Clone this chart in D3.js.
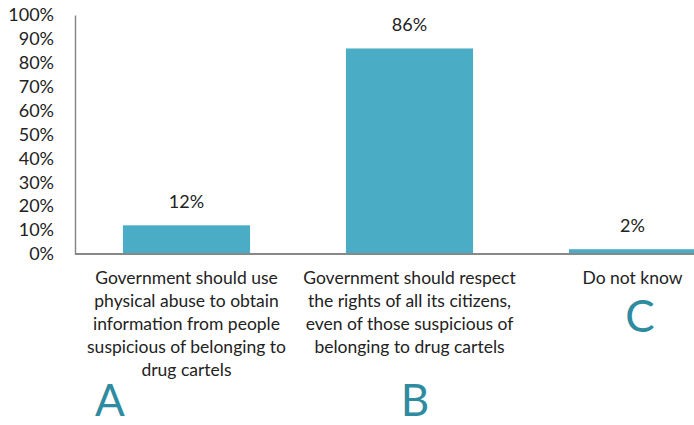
<!DOCTYPE html>
<html><head><meta charset="utf-8">
<script src="https://d3js.org/d3.v7.min.js"></script>
<style>html,body{margin:0;padding:0;background:#fff;overflow:hidden}</style>
</head><body>
<svg id="c" width="694" height="425"></svg>
<script>
const categories = ["A", "B", "C"];
const values = [0.12, 0.86, 0.02];
const valueLabels = ["12%", "86%", "2%"];
const categoryLabels = [
  ["Government should use", "physical abuse to obtain", "information from people", "suspicious of belonging to", "drug cartels"],
  ["Government should respect", "the rights of all its citizens,", "even of those suspicious of", "belonging to drug cartels"],
  ["Do not know"]
];
const letters = ["A", "B", "C"];
const yTicks = [0, 0.1, 0.2, 0.3, 0.4, 0.5, 0.6, 0.7, 0.8, 0.9, 1.0];

const svg = d3.select("#c");
const font = "Lato, 'Open Sans', sans-serif";
const x = d3.scaleBand().domain(categories).range([75, 744]).paddingInner(0.43).paddingOuter(0.215);
const y = d3.scaleLinear().domain([0, 1]).range([254, 15]);

// bars
svg.selectAll("rect.bar").data(values).join("rect")
  .attr("x", (d, i) => x(categories[i]))
  .attr("width", x.bandwidth())
  .attr("y", d => y(d))
  .attr("height", d => y(0) - y(d))
  .attr("fill", "#4bacc6");

// y axis
const yAxis = d3.axisLeft(y).tickValues(yTicks).tickFormat(d3.format(".0%")).tickSize(0).tickPadding(21);
const gy = svg.append("g").attr("transform", "translate(75,0)").call(yAxis);
gy.select(".domain").attr("stroke", "#888").attr("stroke-width", 1.5);
gy.selectAll("text").attr("font-family", font).attr("font-size", 18).attr("fill", "#222");

// x axis baseline
svg.append("line").attr("x1", 75).attr("x2", 694).attr("y1", y(0)).attr("y2", y(0))
  .attr("stroke", "#888").attr("stroke-width", 2);

// value labels
svg.selectAll("text.val").data(values).join("text").attr("class", "val")
  .attr("x", (d, i) => x(categories[i]) + x.bandwidth() / 2)
  .attr("y", d => y(d) - 17)
  .attr("text-anchor", "middle")
  .attr("font-family", font).attr("font-size", 18).attr("fill", "#222")
  .text((d, i) => valueLabels[i]);

// category labels
categoryLabels.forEach((lines, i) => {
  const cx = x(categories[i]) + x.bandwidth() / 2;
  const t = svg.append("text").attr("text-anchor", "middle")
    .attr("font-family", font).attr("font-size", 17.5).attr("fill", "#222");
  lines.forEach((l, j) => {
    t.append("tspan").attr("x", cx).attr("y", 284 + j * 23).text(l);
  });
});

// big letters
const letterPos = [[110, 416], [415, 416], [640, 332]];
letters.forEach((l, i) => {
  svg.append("text").attr("x", letterPos[i][0]).attr("y", letterPos[i][1])
    .attr("text-anchor", "middle").attr("font-family", font).attr("font-size", 44)
    .attr("fill", "#2e8ba0").text(l);
});
</script>
</body></html>
